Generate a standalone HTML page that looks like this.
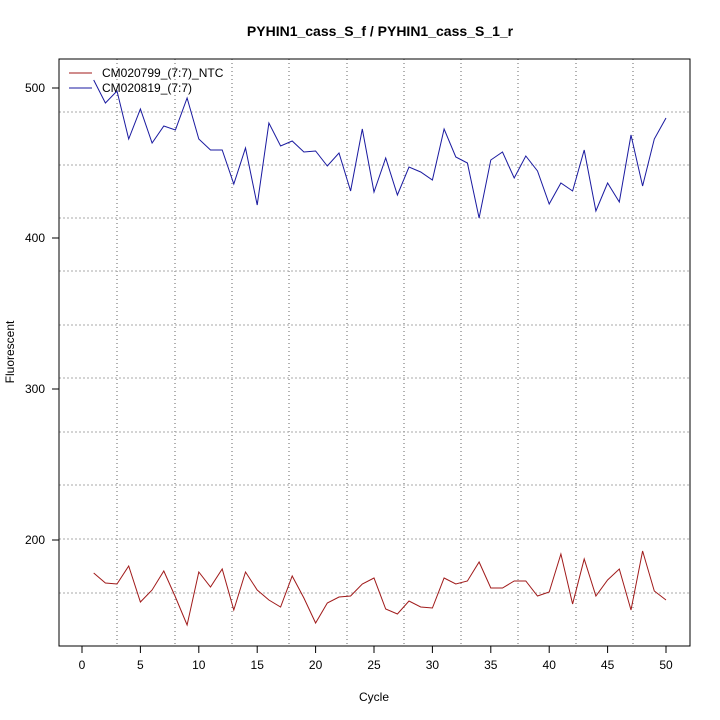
<!DOCTYPE html>
<html><head><meta charset="utf-8"><style>body{margin:0;background:#fff}svg{display:block}text{font-family:"Liberation Sans",sans-serif;font-size:12px}</style></head>
<body>
<svg width="720" height="720" xmlns="http://www.w3.org/2000/svg">
<rect width="720" height="720" fill="#fff"/>
<text x="380" y="36" text-anchor="middle" font-weight="bold" style="font-size:14px">PYHIN1_cass_S_f / PYHIN1_cass_S_1_r</text>
<g stroke="#666" stroke-dasharray="1,3" stroke-width="1">
<line x1="117" y1="59" x2="117" y2="646"/><line x1="175" y1="59" x2="175" y2="646"/><line x1="232" y1="59" x2="232" y2="646"/><line x1="289" y1="59" x2="289" y2="646"/><line x1="347" y1="59" x2="347" y2="646"/><line x1="404" y1="59" x2="404" y2="646"/><line x1="461" y1="59" x2="461" y2="646"/><line x1="518" y1="59" x2="518" y2="646"/><line x1="576" y1="59" x2="576" y2="646"/><line x1="633" y1="59" x2="633" y2="646"/>
</g>
<g stroke="#aaa" stroke-dasharray="2,2" stroke-width="1">
<line x1="59" y1="112" x2="690" y2="112"/><line x1="59" y1="165" x2="690" y2="165"/><line x1="59" y1="218" x2="690" y2="218"/><line x1="59" y1="271" x2="690" y2="271"/><line x1="59" y1="325" x2="690" y2="325"/><line x1="59" y1="378" x2="690" y2="378"/><line x1="59" y1="432" x2="690" y2="432"/><line x1="59" y1="485" x2="690" y2="485"/><line x1="59" y1="539" x2="690" y2="539"/><line x1="59" y1="593" x2="690" y2="593"/>
</g>
<rect x="59" y="59" width="631" height="587" fill="none" stroke="#000"/>
<g stroke="#000">
<line x1="82" y1="646" x2="666" y2="646"/>
<line x1="82" y1="646" x2="82" y2="653"/><line x1="140.4" y1="646" x2="140.4" y2="653"/><line x1="198.8" y1="646" x2="198.8" y2="653"/><line x1="257.2" y1="646" x2="257.2" y2="653"/><line x1="315.6" y1="646" x2="315.6" y2="653"/><line x1="374" y1="646" x2="374" y2="653"/><line x1="432.4" y1="646" x2="432.4" y2="653"/><line x1="490.8" y1="646" x2="490.8" y2="653"/><line x1="549.2" y1="646" x2="549.2" y2="653"/><line x1="607.6" y1="646" x2="607.6" y2="653"/><line x1="666" y1="646" x2="666" y2="653"/>
<line x1="59" y1="88" x2="59" y2="540"/>
<line x1="52" y1="88" x2="59" y2="88"/><line x1="52" y1="238" x2="59" y2="238"/><line x1="52" y1="389" x2="59" y2="389"/><line x1="52" y1="540" x2="59" y2="540"/>
</g>
<g text-anchor="middle">
<text x="82" y="669">0</text><text x="140.4" y="669">5</text><text x="198.8" y="669">10</text><text x="257.2" y="669">15</text><text x="315.6" y="669">20</text><text x="374" y="669">25</text><text x="432.4" y="669">30</text><text x="490.8" y="669">35</text><text x="549.2" y="669">40</text><text x="607.6" y="669">45</text><text x="666" y="669">50</text>
<text x="374" y="701">Cycle</text>
</g>
<g text-anchor="end">
<text x="45" y="92">500</text><text x="45" y="242">400</text><text x="45" y="393">300</text><text x="45" y="544">200</text>
</g>
<text transform="translate(14,352) rotate(-90)" text-anchor="middle">Fluorescent</text>
<polyline id="b" fill="none" stroke="#1a1aa0" stroke-width="1"/>
<polyline id="r" fill="none" stroke="#a01a1a" stroke-width="1"/>
<line x1="69" y1="73" x2="92" y2="73" stroke="#a01a1a"/>
<line x1="69" y1="88" x2="92" y2="88" stroke="#1a1aa0"/>
<text x="102" y="77">CM020799_(7:7)_NTC</text>
<text x="102" y="92">CM020819_(7:7)</text>
</svg>
<script>
var B=[80,103,91,139,109,143,126,130,98,139,150,150,184,148,205,123,146,141,152,151,166,153,191,129,192,158,195,167,172,180,129,157,163,218,160,152,178,156,171,204,183,191,150,211,183,202,135,186,139,118];
var R=[573,583,584,566,602,590,571,597,625,572,587,569,610,572,590,600,607,576,598,623,603,597,596,584,578,609,614,601,607,608,578,584,581,562,588,588,581,581,596,592,554,604,559,596,580,569,610,551,591,600];
function p(a){return a.map(function(y,i){return (82+(i+1)*11.68).toFixed(1)+","+y}).join(" ")}
document.getElementById("b").setAttribute("points",p(B));
document.getElementById("r").setAttribute("points",p(R));
</script>
</body></html>
